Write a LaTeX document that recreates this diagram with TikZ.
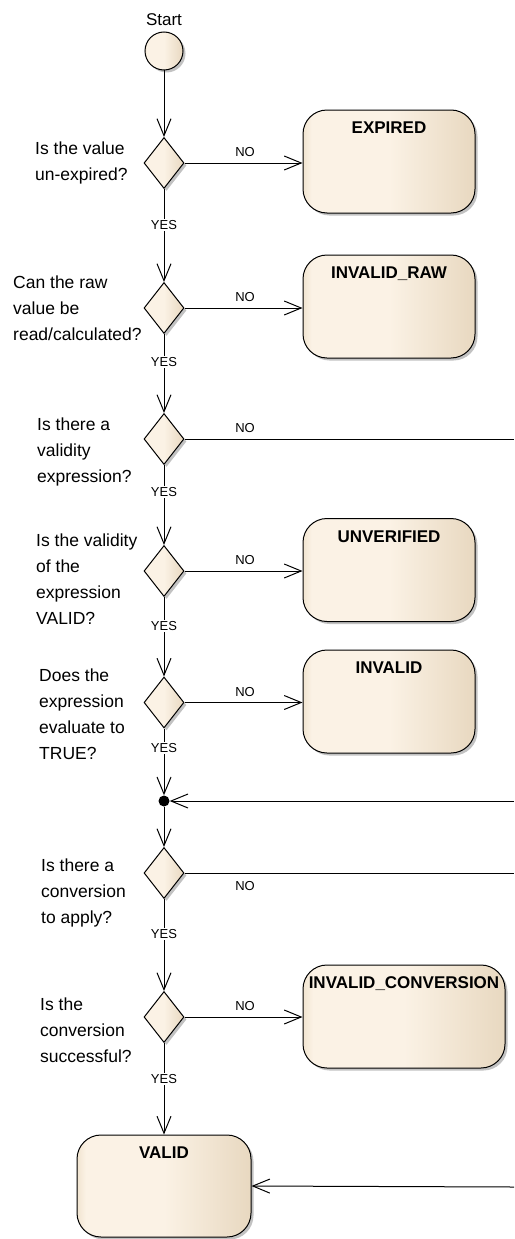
\documentclass[tikz,border=0pt]{standalone}
\usepackage{fontspec}
\setmainfont{Liberation Sans}
\usetikzlibrary{shapes.geometric,arrows.meta,shadows}
\definecolor{eaL}{RGB}{251,242,229}
\definecolor{eaE}{RGB}{241,228,208}
\definecolor{eaD}{RGB}{232,216,192}
\pgfdeclarehorizontalshading{eashade}{100bp}{color(0bp)=(eaE); color(25bp)=(eaE); color(27.5bp)=(eaL); color(50bp)=(eaL); color(75bp)=(eaD); color(100bp)=(eaD)}
\begin{document}
\begin{tikzpicture}[x=1pt,y=1pt,
  shad/.style={drop shadow={shadow xshift=2.5pt,shadow yshift=-2.5pt,fill=black!40,opacity=0.6}},
  statebox/.style={rectangle,rounded corners=24pt,draw=black,line width=1pt,shading=eashade,shad,
    minimum width=172pt,minimum height=103pt,inner sep=0pt},
  decision/.style={diamond,draw=black,line width=1pt,shading=eashade,shad,
    minimum width=40pt,minimum height=51pt,inner sep=0pt},
  title/.style={font=\fontsize{17}{17}\selectfont\bfseries,text height=12.3pt,text depth=0pt,inner sep=0pt},
  quest/.style={anchor=west,align=left,inner sep=0pt,font=\fontsize{17.5}{26}\selectfont},
  yes/.style={fill=white,inner sep=1pt,font=\fontsize{13}{13}\selectfont,text height=9.3pt,text depth=0pt},
  no/.style={inner sep=0pt,font=\fontsize{13}{13}\selectfont,text height=9.3pt,text depth=0pt},
  arr/.style={line width=1pt,-{Straight Barb[length=17pt,width=14pt]}},
  plain/.style={line width=1pt}
]
\useasboundingbox (0,0) rectangle (514,-1239);

% start
\node[font=\fontsize{17}{17}\selectfont,inner sep=0pt] (stt) at (164,-20) {Start};
\node[circle,draw=black,line width=1pt,shading=eashade,shad,minimum size=38pt,inner sep=0pt] (st) at (164,-51) {};

% decisions
\node[decision] (d1) at (164,-163) {};
\node[decision] (d2) at (164,-308) {};
\node[decision] (d3) at (164,-439) {};
\node[decision] (d4) at (164,-571) {};
\node[decision] (d5) at (164,-702.5) {};
\node[circle,fill=black,minimum size=11pt,inner sep=0pt] (j) at (164,-801) {};
\node[decision] (d6) at (164,-873) {};
\node[decision] (d7) at (164,-1017) {};

% questions
\node[quest] (q1) at (35,-163) {Is the value\\un-expired?};
\node[quest] (q2) at (13,-308.5) {Can the raw\\value be\\read/calculated?};
\node[quest] (q3) at (37,-451.5) {Is there a\\validity\\expression?};
\node[quest] (q4) at (36,-579) {Is the validity\\of the\\expression\\VALID?};
\node[quest] (q5) at (39,-714.5) {Does the\\expression\\evaluate to\\TRUE?};
\node[quest] (q6) at (41,-893) {Is there a\\conversion\\to apply?};
\node[quest] (q7) at (40,-1030) {Is the\\conversion\\successful?};

% states
\node[statebox] (s1) at (389,-161.5) {};
\node[statebox] (s2) at (389,-306.5) {};
\node[statebox] (s4) at (389,-570) {};
\node[statebox] (s5) at (389,-701.5) {};
\node[statebox,minimum width=202pt] (s7) at (404,-1016.5) {};
\node[statebox,minimum width=174pt,minimum height=102pt] (sv) at (164,-1186) {};

\node[title] (t1) at ([yshift=-18pt]s1.north) {EXPIRED};
\node[title] (t2) at ([yshift=-18pt]s2.north) {INVALID\_RAW};
\node[title] (t4) at ([yshift=-18pt]s4.north) {UNVERIFIED};
\node[title] (t5) at ([yshift=-18pt]s5.north) {INVALID};
\node[title] (t7) at ([yshift=-18pt]s7.north) {INVALID\_CONVERSION};
\node[title] (tv) at ([yshift=-18pt]sv.north) {VALID};

% free ends at the right border
\coordinate (e3) at (514,-439);
\coordinate (ej) at (514,-801);
\coordinate (e6) at (514,-873);
\coordinate (ev) at (514,-1187);

% connectors
\draw[arr] (st.south) -- (d1.north);
\draw[arr] (d1.east) -- (d1.east -| s1.west);
\draw[arr] (d1.south) -- (d2.north);
\draw[arr] (d2.east) -- (d2.east -| s2.west);
\draw[arr] (d2.south) -- (d3.north);
\draw[plain] (d3.east) -- (e3);
\draw[arr] (d3.south) -- (d4.north);
\draw[arr] (d4.east) -- (d4.east -| s4.west);
\draw[arr] (d4.south) -- (d5.north);
\draw[arr] (d5.east) -- (d5.east -| s5.west);
\draw[arr] (d5.south) -- (j.north);
\draw[arr] (ej) -- (j.east);
\draw[arr] (j.south) -- (d6.north);
\draw[plain] (d6.east) -- (e6);
\draw[arr] (d6.south) -- (d7.north);
\draw[arr] (d7.east) -- (d7.east -| s7.west);
\draw[arr] (d7.south) -- (sv.north);
\draw[arr] (ev) -- (sv.east);

% labels
\node[no] (n1) at (245,-152) {NO};
\node[no] (n2) at (245,-297) {NO};
\node[no] (n3) at (245,-428) {NO};
\node[no] (n4) at (245,-560) {NO};
\node[no] (n5) at (245,-691.5) {NO};
\node[no] (n6) at (245,-886) {NO};
\node[no] (n7) at (245,-1006) {NO};

\node[yes] (y1) at (164,-225) {YES};
\node[yes] (y2) at (164,-362) {YES};
\node[yes] (y3) at (164,-492) {YES};
\node[yes] (y4) at (164,-626) {YES};
\node[yes] (y5) at (164,-748) {YES};
\node[yes] (y6) at (164,-934) {YES};
\node[yes] (y7) at (164,-1079) {YES};
\end{tikzpicture}
\end{document}
